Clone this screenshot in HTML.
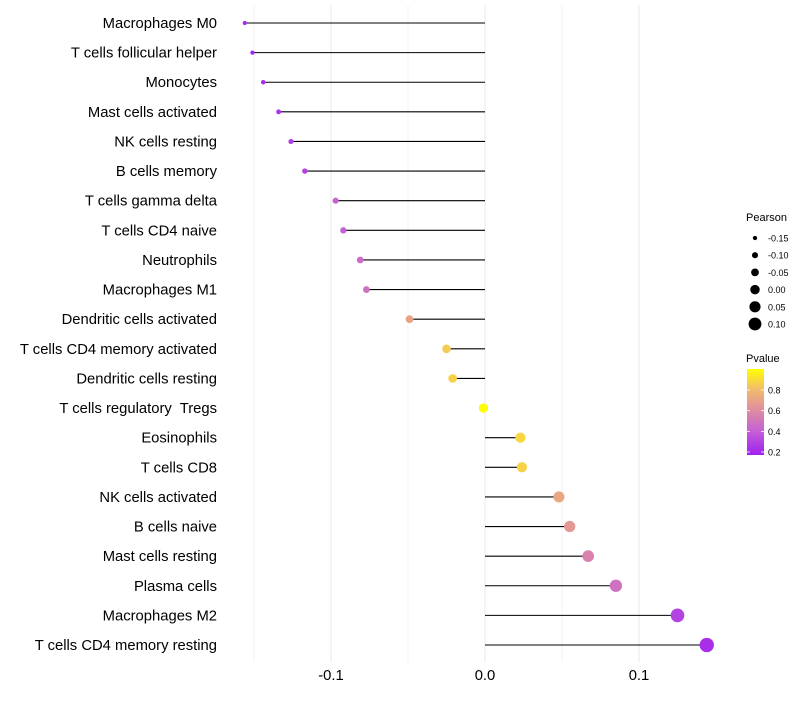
<!DOCTYPE html>
<html><head><meta charset="utf-8"><style>
body{margin:0;background:#fff;font-family:"Liberation Sans",sans-serif;}
text{white-space:pre;}
</style></head><body>
<svg id="chart" width="800" height="700" xmlns="http://www.w3.org/2000/svg"></svg>
<script>
const categories=["Macrophages M0","T cells follicular helper","Monocytes","Mast cells activated","NK cells resting","B cells memory","T cells gamma delta","T cells CD4 naive","Neutrophils","Macrophages M1","Dendritic cells activated","T cells CD4 memory activated","Dendritic cells resting","T cells regulatory  Tregs","Eosinophils","T cells CD8","NK cells activated","B cells naive","Mast cells resting","Plasma cells","Macrophages M2","T cells CD4 memory resting"];
const pearson=[-0.156,-0.151,-0.144,-0.134,-0.126,-0.117,-0.097,-0.092,-0.081,-0.077,-0.049,-0.025,-0.021,-0.001,0.023,0.024,0.048,0.055,0.067,0.085,0.125,0.144];
const pvalue=[0.2,0.2,0.22,0.25,0.28,0.3,0.42,0.4,0.45,0.48,0.7,0.85,0.87,0.99,0.88,0.87,0.72,0.65,0.55,0.48,0.3,0.22];
const xTicks=[-0.1,0,0.1];
const xTickLabels=["-0.1","0.0","0.1"];
const sizeLegendVals=[-0.15,-0.10,-0.05,0.00,0.05,0.10];
const sizeLegendLabels=["-0.15","-0.10","-0.05","0.00","0.05","0.10"];
const colorLegendVals=[0.2,0.4,0.6,0.8];

const NS="http://www.w3.org/2000/svg";
const svg=document.getElementById('chart');
const xS=v=>485+v*1540;
const yS=i=>23+i*(622/21);
const rS=v=>2+(v+0.16)*17;
const stops=[[0.17,[160,32,240]],[0.4,[196,96,214]],[0.6,[222,140,160]],[0.8,[242,186,110]],[1.0,[255,255,0]]];
function col(p){
  if(p<=stops[0][0])return `rgb(${stops[0][1]})`;
  for(let i=1;i<stops.length;i++){if(p<=stops[i][0]){const a=stops[i-1],b=stops[i];const t=(p-a[0])/(b[0]-a[0]);
    return `rgb(${a[1].map((c,k)=>Math.round(c+(b[1][k]-c)*t)).join(',')})`;}}
  return 'rgb(255,255,0)';
}
function el(tag,attrs,parent){const e=document.createElementNS(NS,tag);for(const k in attrs)e.setAttribute(k,attrs[k]);(parent||svg).appendChild(e);return e;}
[-0.15,-0.1,-0.05,0,0.05,0.1].forEach(v=>{
  const g=el('line',{x1:xS(v),x2:xS(v),y1:5,y2:662,stroke:'#ebebeb','stroke-width':Math.abs(v*100)%10===5?0.6:1.1});
  
  
});
categories.forEach((c,i)=>{
  const y=yS(i);
  const t=el('text',{x:217,y:y+5,'text-anchor':'end','font-size':14.8,fill:'#000'});t.textContent=c;
  
  
  const s=el('line',{x1:xS(0),x2:xS(pearson[i]),y1:y,y2:y,stroke:'#000','stroke-width':1.1});
  
  
  const d=el('circle',{cx:xS(pearson[i]),cy:y,r:rS(pearson[i]),fill:col(pvalue[i])});
  
  
});
xTicks.forEach((v,i)=>{
  const t=el('text',{x:xS(v),y:680,'text-anchor':'middle','font-size':14.8,fill:'#000'});t.textContent=xTickLabels[i];
  
  
});
let t=el('text',{x:746,y:221,'font-size':11,fill:'#000'});t.textContent='Pearson';


sizeLegendVals.forEach((v,i)=>{
  const y=238+i*17.2;
  const c=el('circle',{cx:755,cy:y,r:rS(v),fill:'#000'});
  
  
  const l=el('text',{x:768,y:y+3.5,'font-size':9,fill:'#000'});l.textContent=sizeLegendLabels[i];
  
  
});
t=el('text',{x:746,y:362,'font-size':11,fill:'#000'});t.textContent='Pvalue';


const defs=el('defs',{});const lg=el('linearGradient',{id:'pg',x1:0,y1:1,x2:0,y2:0},defs);
stops.forEach(s=>el('stop',{offset:(s[0]-0.17)/0.83,'stop-color':`rgb(${s[1]})`},lg));
const bar=el('rect',{x:747,y:369,width:17,height:86,fill:'url(#pg)'});


const pY=p=>452-(p-0.2)*103.3;
colorLegendVals.forEach(p=>{
  el('line',{x1:747,x2:750,y1:pY(p),y2:pY(p),stroke:'#fff','stroke-width':0.8});
  el('line',{x1:761,x2:764,y1:pY(p),y2:pY(p),stroke:'#fff','stroke-width':0.8});
  const l=el('text',{x:768,y:pY(p)+3.5,'font-size':9,fill:'#000'});l.textContent=p.toFixed(1);
  
  
});
</script>
</body></html>
